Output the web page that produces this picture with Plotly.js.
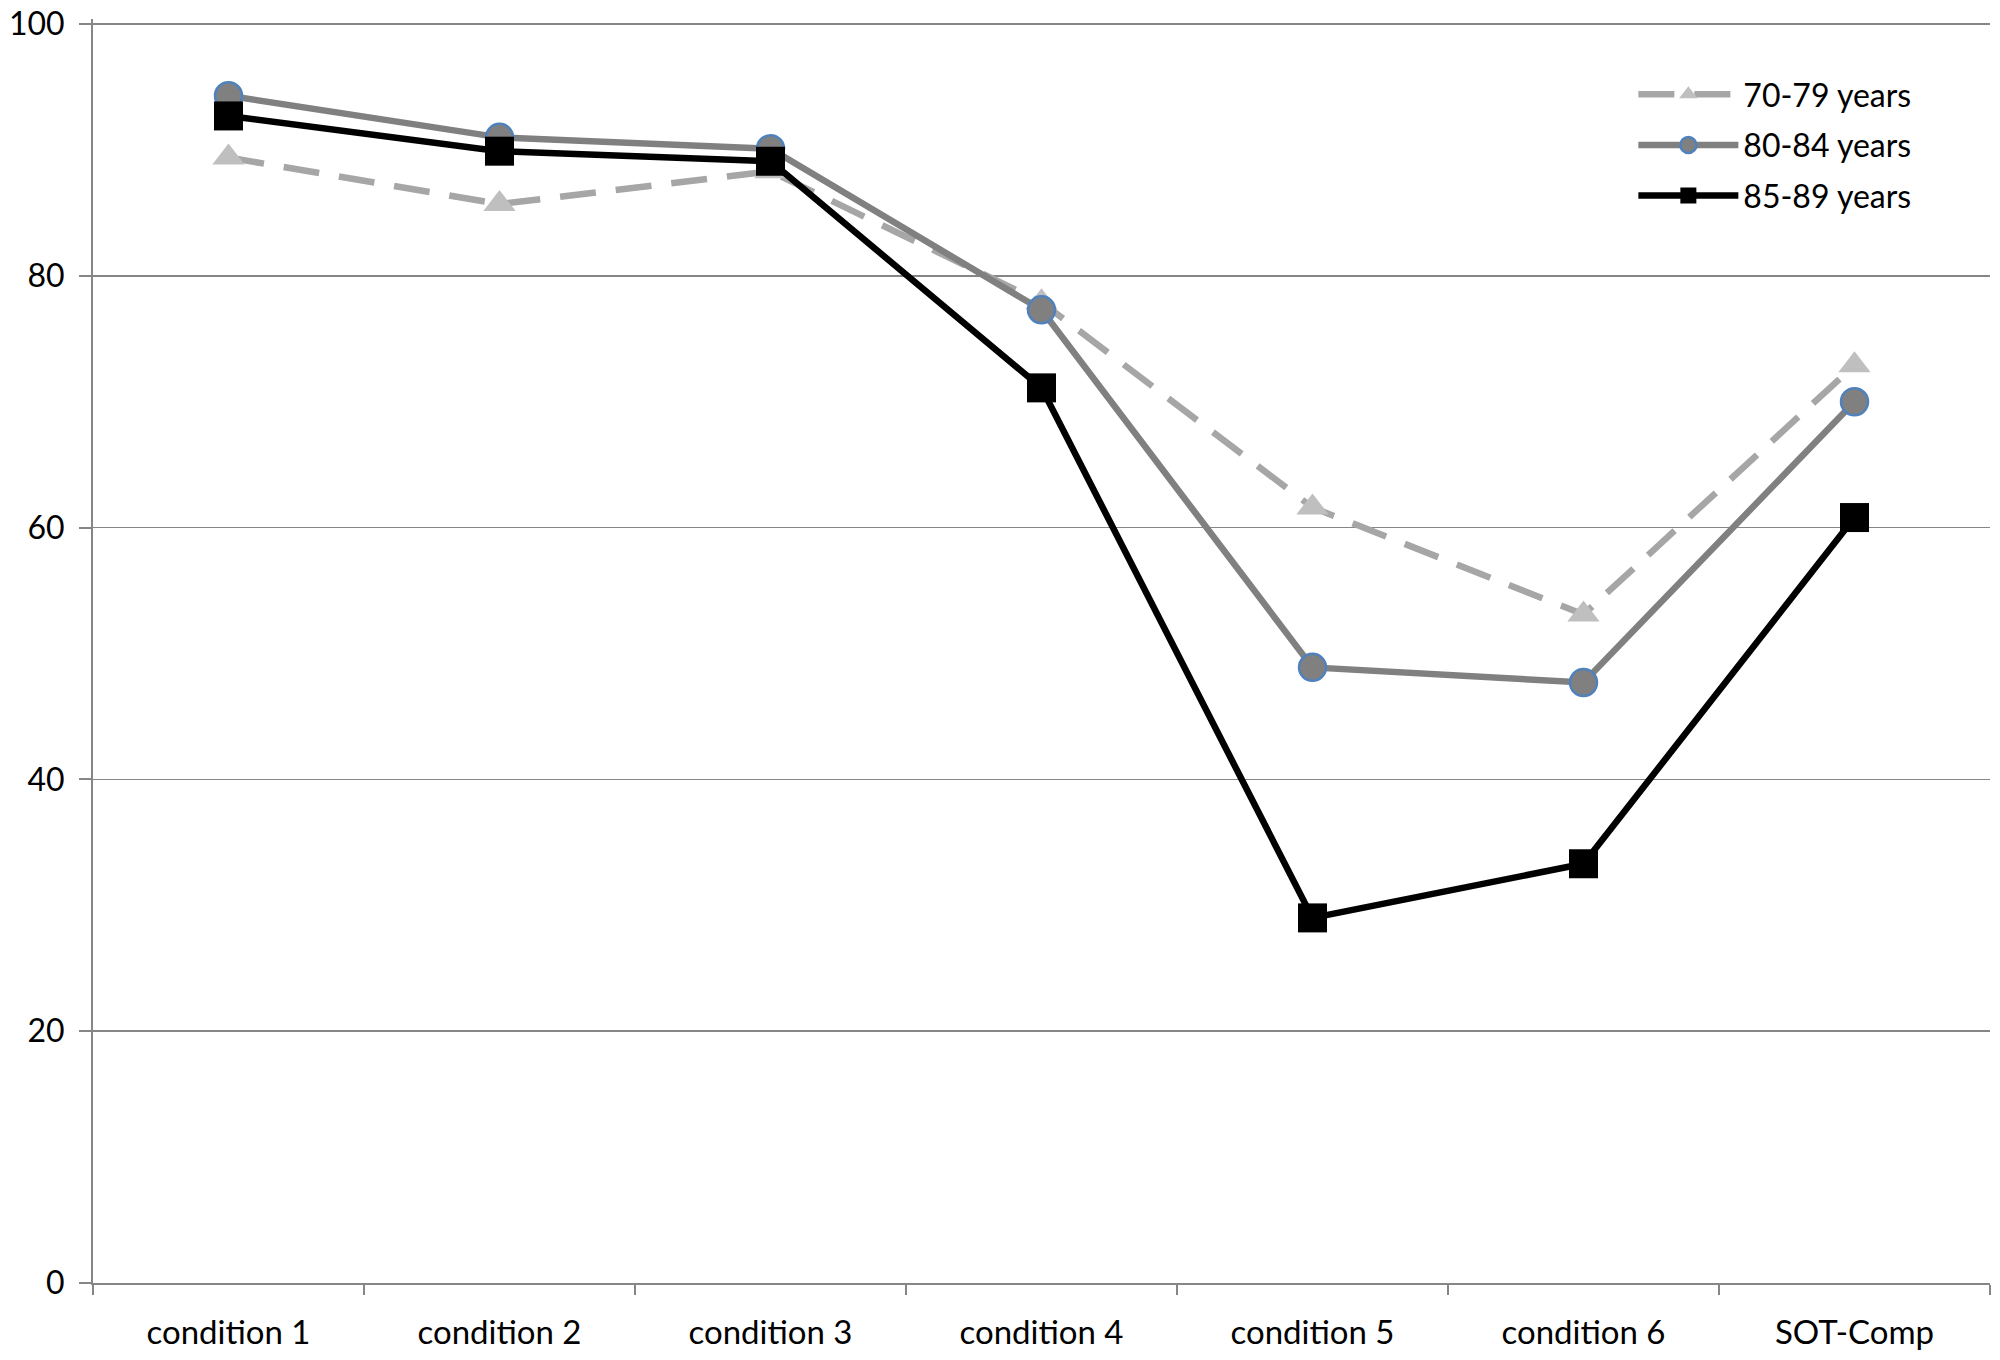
<!DOCTYPE html>
<html>
<head>
<meta charset="utf-8">
<script src="https://cdn.plot.ly/plotly-3.0.1.min.js"></script>
<style>html,body{margin:0;padding:0;background:#fff;}#chart{width:2000px;height:1360px;}</style>
</head>
<body>
<div id="chart"></div>
<script>
var categories = ["condition 1", "condition 2", "condition 3", "condition 4", "condition 5", "condition 6", "SOT-Comp"];
var seriesNames = ["70-79 years", "80-84 years", "85-89 years"];
var values7079 = [89.4, 85.7, 88.3, 77.9, 61.6, 53.1, 72.9];
var values8084 = [94.3, 91.0, 90.1, 77.3, 48.9, 47.7, 70.0];
var values8589 = [92.7, 89.9, 89.1, 71.1, 29.0, 33.3, 60.8];
var yTicks = [0, 20, 40, 60, 80, 100];

var font = "Lato, 'Open Sans', sans-serif";

var traces = [
  {
    x: categories, y: values7079, name: seriesNames[0], type: "scatter", mode: "lines+markers",
    legendgroup: "a",
    line: {color: "#A6A6A6", width: 6.5, dash: "36px,20px"},
    marker: {symbol: "triangle-up", size: 28, color: "#BFBFBF", line: {width: 0}}
  },
  {
    x: categories, y: values8084, name: seriesNames[1], type: "scatter", mode: "lines+markers",
    legendgroup: "b",
    line: {color: "#808080", width: 6.5},
    marker: {symbol: "circle", size: 27, color: "#808080", line: {color: "#4F81BD", width: 2.5}}
  },
  {
    x: categories, y: values8589, name: seriesNames[2], type: "scatter", mode: "lines+markers",
    legendgroup: "c",
    line: {color: "#000000", width: 6.5},
    marker: {symbol: "square", size: 29, color: "#000000", line: {width: 0}}
  }
];

var layout = {
  width: 2000, height: 1360,
  margin: {l: 93, r: 10, t: 19, b: 77},
  paper_bgcolor: "#ffffff", plot_bgcolor: "#ffffff",
  font: {family: font, size: 33, color: "#000000"},
  showlegend: true,
  legend: {
    x: 0.812, y: 0.962, xanchor: "left", yanchor: "top",
    font: {family: font, size: 32, color: "#000000"},
    traceorder: "grouped", tracegroupgap: 6,
    itemwidth: 100, bgcolor: "rgba(0,0,0,0)"
  },
  xaxis: {
    type: "category", range: [-0.5, 6.5],
    showline: true, linecolor: "#868686", linewidth: 2,
    ticks: "outside", tickson: "boundaries", ticklen: 10, tickcolor: "#868686", tickwidth: 2,
    ticklabelstandoff: 19,
    showgrid: false, zeroline: false,
    tickfont: {family: font, size: 33, color: "#000000"}
  },
  yaxis: {
    range: [0, 100.4], tickvals: yTicks, ticktext: yTicks.map(String),
    showline: true, linecolor: "#868686", linewidth: 2,
    ticks: "outside", ticklen: 12, tickcolor: "#868686", tickwidth: 2,
    ticklabelstandoff: 8, ticklabeloverflow: "allow",
    showgrid: true, gridcolor: "#868686", gridwidth: 1.5,
    zeroline: false,
    tickfont: {family: font, size: 32, color: "#000000"}
  }
};

Plotly.newPlot("chart", traces, layout, {displayModeBar: false, staticPlot: true});
</script>
</body>
</html>
